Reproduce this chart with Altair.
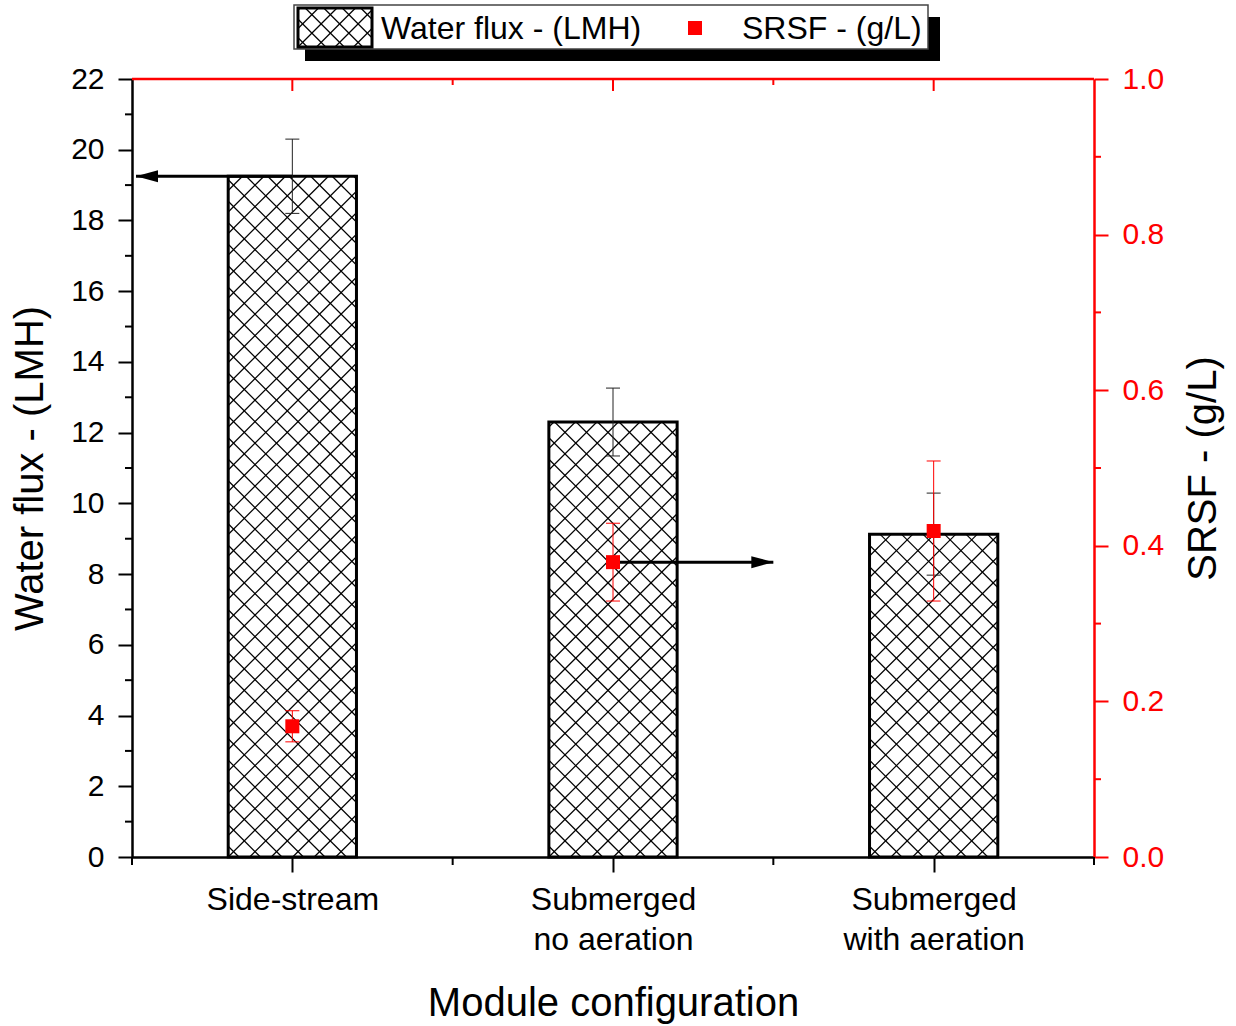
import json
import math
import altair as alt
import pandas as pd

# ---------------- data ----------------
categories = ["Side-stream", "Submerged|no aeration", "Submerged|with aeration"]
flux = [19.25, 12.30, 9.13]          # Water flux (LMH)
flux_err = [1.05, 0.96, 1.16]
srsf = [0.168, 0.379, 0.419]         # SRSF (g/L)
srsf_err = [0.020, 0.050, 0.090]

flux_ticks = list(range(0, 23, 2))
flux_minor = list(range(1, 22, 2))
srsf_ticks = [0.0, 0.2, 0.4, 0.6, 0.8, 1.0]
srsf_minor = [0.1, 0.3, 0.5, 0.7, 0.9]

# ---------------- styling / layout ----------------
W, H = 962, 778
N = len(categories)
Y1MAX, Y2MAX = 22, 1.0
BAR_HALF = 0.2
FONT = "Liberation Sans"
RED = "#ff0000"
pxx = W / N
pxy = H / Y1MAX
CAP = 7 / pxx  # half width of error-bar caps in x units

centers = [i + 0.5 for i in range(N)]
boundaries = list(range(N + 1))


def hatch(L, R, b, t, s):
    """Cross-hatch segments (45 deg in pixel space) inside rectangle.
    L, R: px from plot left; b, t: px upward from plot bottom."""
    w, h = R - L, t - b
    segs = []
    c = -math.floor(w / s) * s
    while c < h:
        u0, u1 = max(0, -c), min(w, h - c)
        if u1 - u0 > 0.5:
            segs.append((u0, u0 + c, u1, u1 + c))
        c += s
    c = s * 0.5
    while c < w + h:
        u0, u1 = max(0, c - h), min(w, c)
        if u1 - u0 > 0.5:
            segs.append((u0, c - u0, u1, c - u1))
        c += s
    return [dict(hx=(L + a) / pxx, hy=(b + bb) / pxy,
                 hx2=(L + cc) / pxx, hy2=(b + d) / pxy) for a, bb, cc, d in segs]


hatch_rows = []
for cx, f in zip(centers, flux):
    hatch_rows += hatch((cx - BAR_HALF) * pxx, (cx + BAR_HALF) * pxx, 0, f * pxy, 21.5)
# legend swatch (in px relative to plot: x 166..240, 32..71 px above plot top)
SW = dict(L=166, R=240, top=-71, bot=-32)
swatch_rows = hatch(SW["L"], SW["R"], H - SW["bot"], H - SW["top"], 18.5)

bars = pd.DataFrame({
    "x0": [c - BAR_HALF for c in centers],
    "x1": [c + BAR_HALF for c in centers],
    "base": [0] * N,
    "flux": flux,
})
ferr = pd.DataFrame({
    "c": centers,
    "lo": [f - e for f, e in zip(flux, flux_err)],
    "hi": [f + e for f, e in zip(flux, flux_err)],
})
fcaps = pd.DataFrame({
    "a": [c - CAP for c in centers] * 2,
    "b": [c + CAP for c in centers] * 2,
    "y": list(ferr["lo"]) + list(ferr["hi"]),
})
pts = pd.DataFrame({"c": centers, "srsf": srsf})
serr = pd.DataFrame({
    "c": centers,
    "lo": [v - e for v, e in zip(srsf, srsf_err)],
    "hi": [v + e for v, e in zip(srsf, srsf_err)],
})
scaps = pd.DataFrame({
    "a": [c - CAP for c in centers] * 2,
    "b": [c + CAP for c in centers] * 2,
    "y": list(serr["lo"]) + list(serr["hi"]),
})
hatch_df = pd.DataFrame(hatch_rows)
swatch_df = pd.DataFrame(swatch_rows)

# arrows (annotations): flux arrow toward left axis, SRSF arrow toward right
arrow1 = pd.DataFrame({"xs": [centers[0]], "xe": [0.0125], "y": [flux[0]]})
arrow2 = pd.DataFrame({"xs": [centers[1]], "xe": [2.0], "y": [srsf[1]]})

xs = alt.Scale(domain=[0, N], nice=False, zero=False)
y1s = alt.Scale(domain=[0, Y1MAX], nice=False)
y2s = alt.Scale(domain=[0, Y2MAX], nice=False)

label_expr = "split(%s[floor(datum.value)], '|')" % json.dumps(categories)
x_axis = alt.Axis(
    values=centers, labelExpr=label_expr, grid=False,
    tickSize=15, tickWidth=2, tickColor="black",
    domainWidth=2.5, domainColor="black",
    labelFont=FONT, labelFontSize=32, labelColor="black",
    labelPadding=12, labelLineHeight=40, labelAngle=0, labelLimit=0,
    title="Module configuration", titleFont=FONT, titleFontSize=40,
    titleFontWeight="normal", titleColor="black",
    titleY=158, titleBaseline="alphabetic",
)
left_axis = alt.Axis(
    values=flux_ticks, grid=False, orient="left",
    tickSize=14, tickWidth=2, tickColor="black",
    domainWidth=2.5, domainColor="black",
    labelFont=FONT, labelFontSize=30, labelColor="black", labelPadding=14,
    title="Water flux - (LMH)", titleFont=FONT, titleFontSize=40,
    titleFontWeight="normal", titleColor="black",
    titleX=-90, titleY=H / 2, titleAngle=270, titleBaseline="alphabetic",
    titleAlign="center",
)
right_axis = alt.Axis(
    values=srsf_ticks, format=".1f", grid=False, orient="right",
    tickSize=14, tickWidth=2, tickColor=RED,
    domainWidth=2.5, domainColor=RED,
    labelFont=FONT, labelFontSize=30, labelColor=RED, labelPadding=14,
    title="SRSF - (g/L)", titleFont=FONT, titleFontSize=40,
    titleFontWeight="normal", titleColor="black",
    titleX=121, titleY=H / 2, titleAngle=270, titleBaseline="alphabetic",
    titleAlign="center",
)


def X(f):
    return alt.X(f, type="quantitative", scale=xs, axis=x_axis)


def Y1(f):
    return alt.Y(f, type="quantitative", scale=y1s, axis=left_axis)


def Y2(f):
    return alt.Y(f, type="quantitative", scale=y2s, axis=right_axis)


one = alt.Data(values=[{}])

# ---------- group A: left scale ----------
bar_fill = alt.Chart(bars).mark_rect(color="white").encode(
    x=X("x0"), x2="x1", y=Y1("base"), y2="flux")
hatch_l = alt.Chart(hatch_df).mark_rule(color="black", strokeWidth=1.2).encode(
    x=X("hx"), x2="hx2", y=Y1("hy"), y2="hy2")
bar_out = alt.Chart(bars).mark_rect(filled=False, stroke="black", strokeWidth=3).encode(
    x=X("x0"), x2="x1", y=Y1("base"), y2="flux")
ferr_l = alt.Chart(ferr).mark_rule(color="#222", strokeWidth=1).encode(
    x=X("c"), y=Y1("lo"), y2="hi")
fcap_l = alt.Chart(fcaps).mark_rule(color="#222", strokeWidth=1).encode(
    x=X("a"), x2="b", y=Y1("y"))
arr1_line = alt.Chart(arrow1).mark_rule(color="black", strokeWidth=3).encode(
    x=X("xs"), x2="xe", y=Y1("y"))
arr1_head = alt.Chart(arrow1).mark_point(
    shape="M0,0 L2,-0.545 L2,0.545 Z", size=484, filled=True, color="black", opacity=1
).encode(x=X("xe"), y=Y1("y"))
lminor = alt.Chart(pd.DataFrame({"v": flux_minor})).mark_rule(color="black", strokeWidth=2).encode(
    y=Y1("v"), x=alt.value(-7), x2=alt.value(0))
bminor = alt.Chart(pd.DataFrame({"v": boundaries})).mark_rule(color="black", strokeWidth=2).encode(
    x=X("v"), y=alt.value(H), y2=alt.value(H + 8))
top_line = alt.Chart(one).mark_rule(color=RED, strokeWidth=2.5).encode(
    x=alt.value(0), x2=alt.value(W), y=alt.value(0))
tmajor = alt.Chart(pd.DataFrame({"v": centers})).mark_rule(color=RED, strokeWidth=2).encode(
    x=X("v"), y=alt.value(0), y2=alt.value(12))
tminor = alt.Chart(pd.DataFrame({"v": boundaries[1:-1]})).mark_rule(color=RED, strokeWidth=2).encode(
    x=X("v"), y=alt.value(0), y2=alt.value(6))

# legend
leg_shadow = alt.Chart(one).mark_rect(color="black").encode(
    x=alt.value(173), x2=alt.value(808), y=alt.value(-62), y2=alt.value(-18))
leg_box = alt.Chart(one).mark_rect(fill="white", stroke="#444", strokeWidth=1.5).encode(
    x=alt.value(162), x2=alt.value(796), y=alt.value(-74), y2=alt.value(-30))
sw_fill = alt.Chart(one).mark_rect(color="white").encode(
    x=alt.value(SW["L"]), x2=alt.value(SW["R"]), y=alt.value(SW["top"]), y2=alt.value(SW["bot"]))
sw_hatch = alt.Chart(swatch_df).mark_rule(color="black", strokeWidth=1.2).encode(
    x=X("hx"), x2="hx2", y=Y1("hy"), y2="hy2")
sw_out = alt.Chart(one).mark_rect(filled=False, stroke="black", strokeWidth=3).encode(
    x=alt.value(SW["L"]), x2=alt.value(SW["R"]), y=alt.value(SW["top"]), y2=alt.value(SW["bot"]))
leg_t1 = alt.Chart(one).mark_text(
    text="Water flux - (LMH)", font=FONT, fontSize=32, align="left", baseline="alphabetic",
    color="black").encode(x=alt.value(249), y=alt.value(-40))
leg_sq = alt.Chart(one).mark_point(shape="square", size=196, filled=True, color=RED, opacity=1).encode(
    x=alt.value(563), y=alt.value(-51))
leg_t2 = alt.Chart(one).mark_text(
    text="SRSF - (g/L)", font=FONT, fontSize=32, align="left", baseline="alphabetic",
    color="black").encode(x=alt.value(610), y=alt.value(-40))

group_a = alt.layer(
    bar_fill, hatch_l, bar_out, ferr_l, fcap_l, arr1_line, arr1_head,
    lminor, bminor, top_line, tmajor, tminor,
    leg_shadow, leg_box, sw_fill, sw_hatch, sw_out, leg_t1, leg_sq, leg_t2,
)

# ---------- group B: right scale ----------
serr_l = alt.Chart(serr).mark_rule(color=RED, strokeWidth=1).encode(
    x=X("c"), y=Y2("lo"), y2="hi")
scap_l = alt.Chart(scaps).mark_rule(color=RED, strokeWidth=1).encode(
    x=X("a"), x2="b", y=Y2("y"))
arr2_line = alt.Chart(arrow2).mark_rule(color="black", strokeWidth=3).encode(
    x=X("xs"), x2="xe", y=Y2("y"))
arr2_head = alt.Chart(arrow2).mark_point(
    shape="M0,0 L-2,-0.545 L-2,0.545 Z", size=484, filled=True, color="black", opacity=1
).encode(x=X("xe"), y=Y2("y"))
points = alt.Chart(pts).mark_point(shape="square", size=196, filled=True, color=RED, opacity=1).encode(
    x=X("c"), y=Y2("srsf"))
rminor = alt.Chart(pd.DataFrame({"v": srsf_minor})).mark_rule(color=RED, strokeWidth=2).encode(
    y=Y2("v"), x=alt.value(W), x2=alt.value(W + 7))

group_b = alt.layer(serr_l, scap_l, arr2_line, arr2_head, points, rminor)

chart = alt.layer(group_a, group_b).resolve_scale(y="independent").properties(
    width=W, height=H,
    autosize=alt.AutoSizeParams(type="none"),
    padding={"left": 132, "top": 79, "right": 142, "bottom": 169},
    background="white",
).configure_view(stroke=None).configure(font=FONT)

chart.save("out.html", embed_options={"renderer": "svg", "actions": False})
